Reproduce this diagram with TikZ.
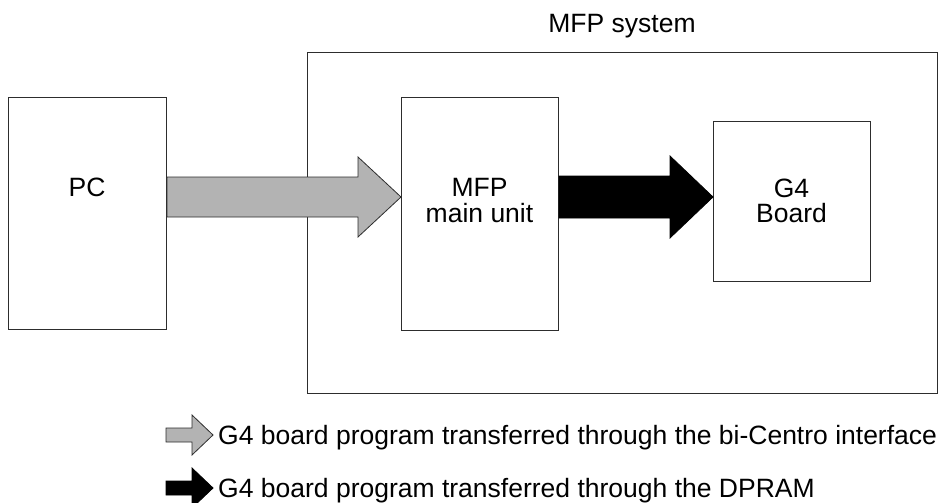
\documentclass[tikz,border=0pt]{standalone}
\usepackage{fontspec}
\setmainfont{Liberation Sans}
\definecolor{arrgray}{RGB}{179,179,179}
\definecolor{edgecol}{RGB}{45,45,45}
\begin{document}
\begin{tikzpicture}[x=1pt,y=-1pt,
  box/.style={draw=edgecol,line width=1pt,inner sep=0pt,anchor=north west},
  lbl/.style={font=\fontsize{26.5}{27}\selectfont,inner sep=0pt,anchor=base},
  legtext/.style={font=\fontsize{26.5}{27}\selectfont,inner sep=0pt,anchor=base west},
  grayarrow/.style={fill=arrgray,draw=edgecol,line width=0.8pt,line join=miter},
  blackarrow/.style={fill=black,draw=black,line width=0.8pt,line join=miter}]
\useasboundingbox (0,0) rectangle (945,503);
% boxes
\node[box,minimum width=630pt,minimum height=341pt] (sys) at (307,52) {};
\node[box,minimum width=158pt,minimum height=232pt] (pc) at (8,97) {};
\node[box,minimum width=157pt,minimum height=233pt] (mu) at (401,97) {};
\node[box,minimum width=157pt,minimum height=160pt] (g4) at (713,121) {};
% labels
\node[lbl] (syslbl) at (622,33) {MFP system};
\node[lbl] (pclbl) at (87,196.5) {PC};
\node[lbl] (mulbl1) at (479.5,196) {MFP};
\node[lbl] (mulbl2) at (479.5,222) {main unit};
\node[lbl] (g4lbl1) at (791.5,197) {G4};
\node[lbl] (g4lbl2) at (791.5,222) {Board};
% transfer arrows
\draw[grayarrow] (pc.east |- 0,177) -- (358,177) -- (358,157) -- (mu.west |- 0,197)
  -- (358,237) -- (358,217) -- (pc.east |- 0,217) -- cycle;
\draw[blackarrow] (mu.east |- 0,176) -- (670,176) -- (670,156) -- (g4.west |- 0,197)
  -- (670,238) -- (670,218) -- (mu.east |- 0,218) -- cycle;
% legend
\draw[grayarrow] (166,428) -- (192,428) -- (192,415) -- (213,435) -- (192,455)
  -- (192,442) -- (166,442) -- cycle;
\node[legtext] (leg1) at (218,444.5) {G4 board program transferred through the bi-Centro interface};
\draw[blackarrow] (166,481) -- (192,481) -- (192,468) -- (213,488) -- (192,508)
  -- (192,495) -- (166,495) -- cycle;
\node[legtext] (leg2) at (218,497) {G4 board program transferred through the DPRAM};
\end{tikzpicture}
\end{document}
